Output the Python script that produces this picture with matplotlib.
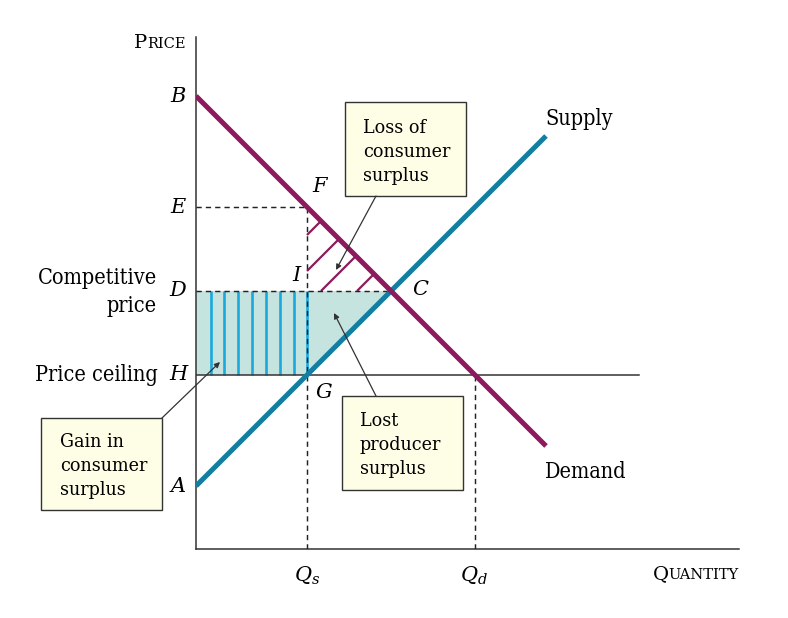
import matplotlib
matplotlib.use("Agg")
import matplotlib.pyplot as plt
import numpy as np

plt.rcParams['font.family'] = ['DejaVu Serif']
plt.rcParams['mathtext.fontset'] = 'dejavuserif'

# ---- data (arbitrary units) ----
demand_intercept = 45.3   # B
supply_intercept = 6.3    # A
slope = 1.0
price_ceiling = 17.4      # H
q_end = 35.0
stripe_q = [1.47, 2.75, 4.2, 5.6, 7.0, 8.4, 9.8, 11.1]
hatch_q = [12.5, 14.3, 16.0, 17.8]

def demand(q):
    return demand_intercept - slope * q

def supply(q):
    return supply_intercept + slope * q

q_eq = (demand_intercept - supply_intercept) / (2 * slope)
p_eq = demand(q_eq)                       # D
q_s = (price_ceiling - supply_intercept) / slope
q_d = (demand_intercept - price_ceiling) / slope
p_e = demand(q_s)                         # E

MAG = '#8c1a5c'
TEAL = '#137ea2'
STRIPE = '#1aa9dd'
FILL = '#c6e4df'
BOXFACE = '#fefde6'
DARK = '#222222'

W, H = 788, 618
fig = plt.figure(figsize=(W / 100, H / 100), dpi=100)
ax = fig.add_axes([196 / W, (H - 549) / H, 543 / W, 512 / H])
ax.set_xlim(0, 54.3)
ax.set_ylim(0, 51.2)
for s in ['top', 'right']:
    ax.spines[s].set_visible(False)
for s in ['left', 'bottom']:
    ax.spines[s].set_linewidth(1.1)
    ax.spines[s].set_color('#333333')
ax.set_xticks([])
ax.set_yticks([])

ax.fill([0, q_s, q_eq, 0], [price_ceiling, price_ceiling, p_eq, p_eq],
        color=FILL, lw=0, zorder=1)
for q in stripe_q:
    ax.plot([q, q], [price_ceiling, p_eq], color=STRIPE, lw=1.9, zorder=2,
            solid_capstyle='butt')

for qh in hatch_q:
    ph = demand(qh)
    t = min(qh - q_s, ph - p_eq)
    ax.plot([qh - t, qh], [ph - t, ph], color=MAG, lw=1.6, zorder=3,
            solid_capstyle='butt')

dash = (0, (3.6, 2.8))
ax.plot([0, q_s], [p_e, p_e], color=DARK, lw=1.05, ls=dash, zorder=4)
ax.plot([q_s, q_s], [0, p_e], color=DARK, lw=1.05, ls=dash, zorder=4)
ax.plot([0, q_eq], [p_eq, p_eq], color=DARK, lw=1.05, ls=dash, zorder=4)
ax.plot([q_d, q_d], [0, price_ceiling], color=DARK, lw=1.05, ls=dash, zorder=4)
ax.plot([0, 44.3], [price_ceiling, price_ceiling], color='#333333', lw=1.1, zorder=4)

qq = np.array([0, q_end])
ax.plot(qq, supply(qq), color=TEAL, lw=3.6, zorder=5, solid_capstyle='butt')
ax.plot(qq, demand(qq), color=MAG, lw=3.6, zorder=6, solid_capstyle='butt')

def P(px, py):
    return ((px - 196) / 10.0, (549 - py) / 10.0)

FS = 15.5
BFS = 14
IFS = 15
ST = 'condensed'
def it(txt, px, py, ha='center'):
    x, y = P(px, py)
    ax.text(x, y, txt, fontsize=IFS, style='italic', ha=ha, va='center',
            clip_on=False, zorder=10)

it('B', 178, 96)
it('E', 178, 208)
it('D', 178, 291)
it('H', 178, 375)
it('A', 178, 486)
it('F', 320, 187)
it('I', 296, 276)
it('C', 420, 290)
it('G', 324, 393)

x, y = P(157, 292)
ax.text(x, y, 'Competitive\nprice', fontsize=FS, ha='right', va='center',
        linespacing=1.4, clip_on=False, stretch=ST)
x, y = P(158, 375)
ax.text(x, y, 'Price ceiling', fontsize=FS, ha='right', va='center', clip_on=False, stretch=ST)
x, y = P(545, 119)
ax.text(x, y, 'Supply', fontsize=FS, ha='left', va='center', clip_on=False, stretch=ST)
x, y = P(545, 472)
ax.text(x, y, 'Demand', fontsize=FS, ha='left', va='center', clip_on=False, stretch=ST)
x, y = P(307, 576)
ax.text(x, y, r'$Q_s$', fontsize=IFS, ha='center', va='center', clip_on=False)
x, y = P(474, 576)
ax.text(x, y, r'$Q_d$', fontsize=IFS, ha='center', va='center', clip_on=False)

fig.canvas.draw()
renderer = fig.canvas.get_renderer()
def smallcaps(big, small, px_right, py_base):
    x, y = P(px_right, py_base)
    t2 = ax.text(x, y, small, fontsize=10.5, ha='right', va='baseline', clip_on=False)
    bb = t2.get_window_extent(renderer=renderer)
    xl = ax.transData.inverted().transform((bb.x0, 0))[0]
    ax.text(xl, y, big, fontsize=14, ha='right', va='baseline', clip_on=False)

smallcaps('P', 'RICE', 186, 48)
smallcaps('Q', 'UANTITY', 739, 579)

def box(px0, py0, px1, py1, lines, tx, ty0):
    x0, y0 = P(px0, py1)
    x1, y1 = P(px1, py0)
    rect = plt.Rectangle((x0, y0), x1 - x0, y1 - y0, facecolor=BOXFACE,
                         edgecolor='#333333', lw=1.0, clip_on=False, zorder=8)
    ax.add_patch(rect)
    for i, ln in enumerate(lines):
        x, y = P(tx, ty0 + 24 * i)
        ax.text(x, y, ln, fontsize=BFS, ha='left', va='center', clip_on=False,
                zorder=9, stretch=ST)

box(345, 102, 466, 196, ['Loss of', 'consumer', 'surplus'], 363, 128)
box(342, 396, 463, 490, ['Lost', 'producer', 'surplus'], 360, 421)
box(41, 418, 162, 510, ['Gain in', 'consumer', 'surplus'], 60, 442)

def arrow(p_from, p_to):
    ax.annotate('', xy=P(*p_to), xytext=P(*p_from),
                arrowprops=dict(arrowstyle='-|>', color='#333333', lw=0.9,
                                mutation_scale=8, shrinkA=0, shrinkB=0),
                annotation_clip=False, zorder=9)

arrow((376, 196), (336, 270))
arrow((376, 396), (334, 313))
arrow((162, 418), (220, 362))

fig.savefig('out.png', dpi=100)
